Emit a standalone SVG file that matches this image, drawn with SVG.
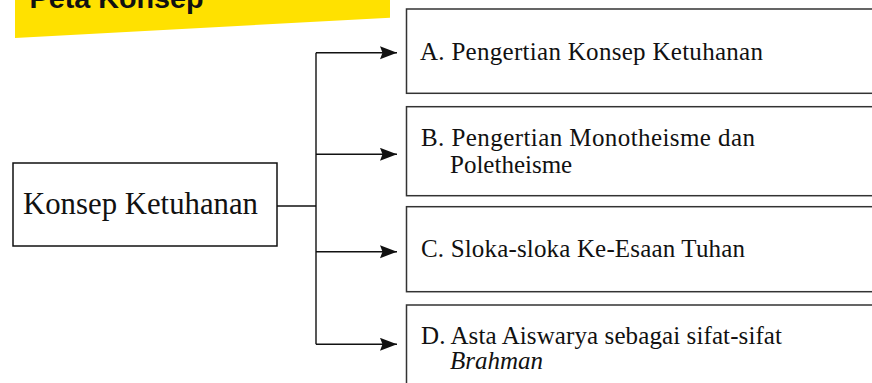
<svg xmlns="http://www.w3.org/2000/svg" width="872" height="383" viewBox="0 0 872 383">
<style>
.box{fill:#fff;stroke:#333;stroke-width:1.5}
.main{fill:#fff;stroke:#111;stroke-width:1.5}
.t{font-family:"Liberation Serif","Times New Roman",serif;font-size:25px;fill:#111}
.big{font-family:"Liberation Serif","Times New Roman",serif;font-size:31.5px;fill:#111}
.title{font-family:"Liberation Sans",Arial,sans-serif;font-weight:bold;font-size:28px;fill:#111}
.c{fill:none;stroke:#111;stroke-width:1.4}
</style>
<defs>
<marker id="ah" markerUnits="userSpaceOnUse" markerWidth="18" markerHeight="14" refX="17" refY="6.5" orient="auto">
<path d="M0,0 L17,6.5 L0,13 L2.5,6.5 Z" fill="#111"/>
</marker>
</defs>
<g id="banner">
<polygon points="15,0 390,0 390,17.7 15,38" fill="#FFE100"/>
<text class="title" x="29.5" y="8" textLength="174" lengthAdjust="spacingAndGlyphs">Peta Konsep</text>
</g>
<g id="main">
<rect class="main" x="13" y="163" width="264" height="83"/>
<text class="big" x="23" y="214" textLength="235" lengthAdjust="spacingAndGlyphs">Konsep Ketuhanan</text>
</g>
<g id="nodeA">
<rect class="box" x="406.5" y="9" width="480" height="84.3"/>
<text class="t" x="420" y="60" textLength="343" lengthAdjust="spacing">A. Pengertian Konsep Ketuhanan</text>
</g>
<g id="nodeB">
<rect class="box" x="406.5" y="106.7" width="480" height="89"/>
<text class="t" x="421" y="145.5" textLength="334" lengthAdjust="spacing">B. Pengertian Monotheisme dan</text>
<text class="t" x="450" y="172.5">Poletheisme</text>
</g>
<g id="nodeC">
<rect class="box" x="406.5" y="206.7" width="480" height="85"/>
<text class="t" x="421" y="257" textLength="324" lengthAdjust="spacing">C. Sloka-sloka Ke-Esaan Tuhan</text>
</g>
<g id="nodeD">
<rect class="box" x="406.5" y="305" width="480" height="100"/>
<text class="t" x="421" y="343.5" textLength="361" lengthAdjust="spacing">D. Asta Aiswarya sebagai sifat-sifat</text>
<text class="t" x="450" y="369" font-style="italic">Brahman</text>
</g>
<g id="connectors">
<path class="c" d="M277,206 H316"/>
<path class="c" d="M316,52.7 V344.3"/>
<path class="c" d="M316,52.7 H397" marker-end="url(#ah)"/>
<path class="c" d="M316,154.3 H397" marker-end="url(#ah)"/>
<path class="c" d="M316,251.7 H397" marker-end="url(#ah)"/>
<path class="c" d="M316,344.3 H397" marker-end="url(#ah)"/>
</g>
</svg>
